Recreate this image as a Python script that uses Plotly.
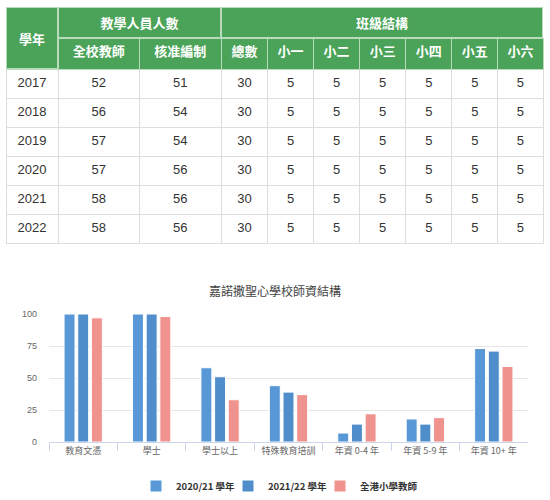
import plotly.graph_objects as go

# ---------------- Table data ----------------
years = ["2017", "2018", "2019", "2020", "2021", "2022"]
all_teachers = [52, 56, 57, 57, 58, 58]
approved_staff = [51, 54, 54, 56, 56, 56]
total_classes = [30, 30, 30, 30, 30, 30]
p1 = [5, 5, 5, 5, 5, 5]
p2 = [5, 5, 5, 5, 5, 5]
p3 = [5, 5, 5, 5, 5, 5]
p4 = [5, 5, 5, 5, 5, 5]
p5 = [5, 5, 5, 5, 5, 5]
p6 = [5, 5, 5, 5, 5, 5]
sub_headers = ["", "全校教師", "核准編制", "總數", "小一", "小二", "小三", "小四", "小五", "小六"]
top_headers = ["學年", "教學人員人數", "班級結構"]

# ---------------- Chart data ----------------
chart_title = "嘉諾撒聖心學校師資結構"
categories = ["教育文憑", "學士", "學士以上", "特殊教育培訓", "年資 0-4 年", "年資 5-9 年", "年資 10+ 年"]
series_names = ["2020/21 學年", "2021/22 學年", "全港小學教師"]
s_2020_21 = [100, 100, 58, 44, 7, 18, 73]
s_2021_22 = [100, 100, 51, 39, 14, 14, 71]
s_hk = [97, 98, 33, 37, 22, 19, 59]
y_ticks = [0, 25, 50, 75, 100]

W, H = 550, 500
GREEN = "#4aa358"
HLINE = "#b8dcbb"
CJK = "Noto Sans CJK TC"
LAT = "Liberation Sans, Arial, " + CJK


def px(x):
    return x / W


def py(y):
    return 1 - y / H


fig = go.Figure()

fig.add_trace(go.Table(
    domain=dict(x=[px(6), px(543)], y=[py(246), py(38)]),
    columnwidth=[52, 81, 82, 46, 46, 46, 46, 46, 46, 45],
    header=dict(
        values=sub_headers,
        fill_color=GREEN,
        line=dict(color=HLINE, width=1),
        font=dict(family=CJK, size=13, color="white", weight="bold"),
        align="center",
        height=31,
    ),
    cells=dict(
        values=[years, all_teachers, approved_staff, total_classes, p1, p2, p3, p4, p5, p6],
        fill_color="white",
        line=dict(color="#dddddd", width=1),
        font=dict(family=LAT, size=13, color="#333333"),
        align="center",
        height=29,
    ),
))

colors = ["#5898d6", "#4f8ecb", "#f0928e"]
legend_widths = [47, 47, 70]
for name, vals, c, lw in zip(series_names, [s_2020_21, s_2021_22, s_hk], colors, legend_widths):
    fig.add_trace(go.Bar(
        x=categories, y=vals, name=name, legendwidth=lw,
        marker=dict(color=c, line=dict(color="white", width=1)),
        xaxis="x", yaxis="y",
    ))

annotations = [
    dict(text="<b>" + top_headers[0] + "</b>", x=px(32), y=py(38), width=50, height=60),
    dict(text="<b>" + top_headers[1] + "</b>", x=px(139.5), y=py(22.5), width=161, height=29),
    dict(text="<b>" + top_headers[2] + "</b>", x=px(382), y=py(22.5), width=320, height=29),
]
for a in annotations:
    a.update(xref="paper", yref="paper", xanchor="center", yanchor="middle",
             showarrow=False, bgcolor=GREEN, bordercolor=HLINE, borderwidth=1,
             borderpad=0, font=dict(family=CJK, size=13, color="white"))

fig.update_layout(
    width=W, height=H,
    margin=dict(l=0, r=0, t=0, b=0, autoexpand=False),
    paper_bgcolor="white", plot_bgcolor="white",
    annotations=annotations,
    title=dict(text=chart_title, x=0.5, xanchor="center", y=py(292), yanchor="middle",
               font=dict(family=CJK, size=12, color="#444444")),
    barmode="group", bargap=0.4, bargroupgap=0.2,
    xaxis=dict(domain=[px(49), px(528)], showline=True, linecolor="#ccd6eb", linewidth=1,
               ticks="outside", tickson="boundaries", ticklen=8, tickcolor="#ccd6eb",
               tickangle=0,
               tickfont=dict(family=CJK, size=9, color="#666666"), anchor="y",
               showgrid=False),
    yaxis=dict(domain=[py(442), py(314)], range=[0, 100], tickvals=y_ticks,
               gridcolor="#e6e6e6", gridwidth=1, zeroline=False, showline=False,
               tickfont=dict(family=LAT, size=9, color="#666666"), ticklabelstandoff=11,
               anchor="x"),
    legend=dict(orientation="h", x=px(136), xanchor="left", y=py(486), yanchor="middle",
                font=dict(family=CJK, size=9.5, color="#333333", weight="bold"),
                itemwidth=30, traceorder="normal"),
    showlegend=True,
)

fig.write_html(
    "out.html",
    config={"displayModeBar": False},
    post_script=(
        "document.documentElement.style.margin='0px';"
        "document.documentElement.style.overflow='hidden';"
        "document.body.style.margin='0px';"
        "document.body.style.padding='0px';"
        "document.body.style.overflow='hidden';"
    ),
)
